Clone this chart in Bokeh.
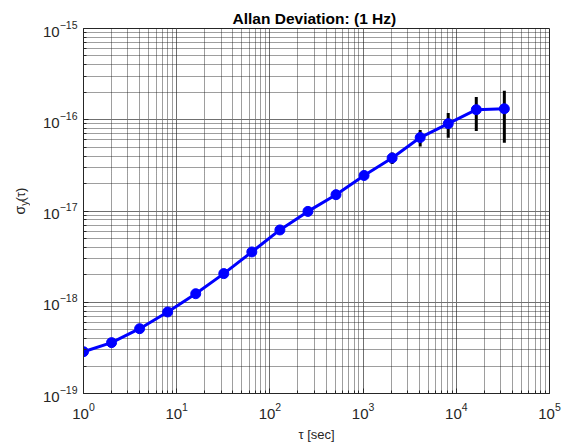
import math
from bokeh.plotting import figure
from bokeh.models import FixedTicker, Range1d
from bokeh.layouts import row
from bokeh.core.properties import value
from bokeh.embed import file_html
from bokeh.resources import INLINE

# Data: averaging time tau [s] and Allan deviation
tau = [1, 2, 4, 8, 16, 32, 64, 128, 256, 512, 1024, 2048, 4096, 8192, 16384, 32768]
adev = [2.87e-19, 3.61e-19, 5.13e-19, 7.83e-19, 1.24e-18, 2.06e-18, 3.56e-18, 6.2e-18,
        9.9e-18, 1.51e-17, 2.45e-17, 3.81e-17, 6.38e-17, 9.06e-17, 1.29e-16, 1.32e-16]
err_lo = [2.83e-19, 3.56e-19, 5.06e-19, 7.72e-19, 1.22e-18, 2.02e-18, 3.49e-18, 6.05e-18,
          9.6e-18, 1.45e-17, 2.32e-17, 3.28e-17, 5.09e-17, 6.35e-17, 7.52e-17, 5.61e-17]
err_hi = [2.91e-19, 3.66e-19, 5.2e-19, 7.94e-19, 1.26e-18, 2.1e-18, 3.63e-18, 6.35e-18,
          1.02e-17, 1.57e-17, 2.58e-17, 4.38e-17, 7.71e-17, 1.185e-16, 1.775e-16, 2.08e-16]

x_major = [1, 10, 100, 1000, 10000, 100000]
y_major = [1e-19, 1e-18, 1e-17, 1e-16, 1e-15]
x_minor = [m * d for d in x_major[:-1] for m in range(2, 10)]
y_minor = [m * d for d in y_major[:-1] for m in range(2, 10)]

title_text = "Allan Deviation:  (1 Hz)"
xlabel_text = "τ [sec]"
ylabel_parts = ["σ", "y", "(τ)"]

FONT = "Liberation Sans"
W = 568
H = 444
LW = 30

# ---- narrow figure that carries the y-axis label (sigma with subscript y) ----
lab = figure(width=LW, height=H, x_range=Range1d(0, LW), y_range=Range1d(H, 0),
             output_backend="svg", toolbar_location=None,
             min_border=0, outline_line_color=None)
lab.axis.visible = False
lab.grid.visible = False
lab.background_fill_color = "white"
lab.border_fill_color = "white"
lab.text(x=[19.5], y=[221], text=[ylabel_parts[0]], angle=math.pi / 2,
         text_font=value(FONT), text_font_size="14px", text_color="#262626",
         text_align="center", text_baseline="middle")
lab.text(x=[23.5], y=[212.5], text=[ylabel_parts[1]], angle=math.pi / 2,
         text_font=value(FONT), text_font_size="10px", text_color="#262626",
         text_align="center", text_baseline="middle")
lab.text(x=[19.5], y=[202], text=[ylabel_parts[2]], angle=math.pi / 2,
         text_font=value(FONT), text_font_size="13px", text_color="#262626",
         text_align="center", text_baseline="middle")

# ---- main plot ----
p = figure(width=W - LW, height=H, x_axis_type="log", y_axis_type="log",
           x_range=Range1d(1, 1e5), y_range=Range1d(1e-19, 1e-15),
           output_backend="svg", toolbar_location=None,
           min_border_left=83 - LW, min_border_right=W - 549,
           min_border_top=28, min_border_bottom=H - 397)
p.background_fill_color = "white"
p.border_fill_color = "white"
p.outline_line_color = "#262626"
p.outline_line_width = 1

p.title.text = title_text
p.title.align = "center"
p.title.text_font = FONT
p.title.text_font_style = "bold"
p.title.text_font_size = "15.5px"
p.title.text_color = "black"
p.title.standoff = 4

p.xaxis.ticker = FixedTicker(ticks=x_major, minor_ticks=x_minor)
p.yaxis.ticker = FixedTicker(ticks=y_major, minor_ticks=y_minor)

for ax in (p.xaxis[0], p.yaxis[0]):
    ax.major_tick_in = 5
    ax.major_tick_out = 0
    ax.minor_tick_in = 3
    ax.minor_tick_out = 0
    ax.axis_line_color = "#262626"
    ax.major_tick_line_color = "#262626"
    ax.minor_tick_line_color = "#262626"
    ax.major_label_text_font = FONT
    ax.major_label_text_font_size = "15px"
    ax.major_label_text_color = "#262626"
    ax.axis_label_text_font = FONT
    ax.axis_label_text_font_style = "normal"
    ax.axis_label_text_font_size = "13px"
    ax.axis_label_text_color = "#262626"

p.xaxis.major_label_standoff = 9
p.yaxis.major_label_standoff = 6
p.xaxis.axis_label = xlabel_text
p.xaxis.axis_label_standoff = 5

for g in (p.xgrid[0], p.ygrid[0]):
    g.grid_line_color = "#707070"
    g.grid_line_width = 1
    g.grid_line_alpha = 1.0
    g.minor_grid_line_color = "#1a1a1a"
    g.minor_grid_line_dash = "1 1"
    g.minor_grid_line_width = 1
    g.minor_grid_line_alpha = 0.85

# error bars
p.segment(x0=tau, y0=err_lo, x1=tau, y1=err_hi, line_color="black", line_width=3)
# line + markers
p.line(tau, adev, line_color="#0000ff", line_width=3)
p.scatter(tau, adev, size=10, fill_color="#0000ff", line_color="#0000ff")

layout = row(lab, p, spacing=0)
open("out.html", "w").write(file_html(layout, INLINE))
